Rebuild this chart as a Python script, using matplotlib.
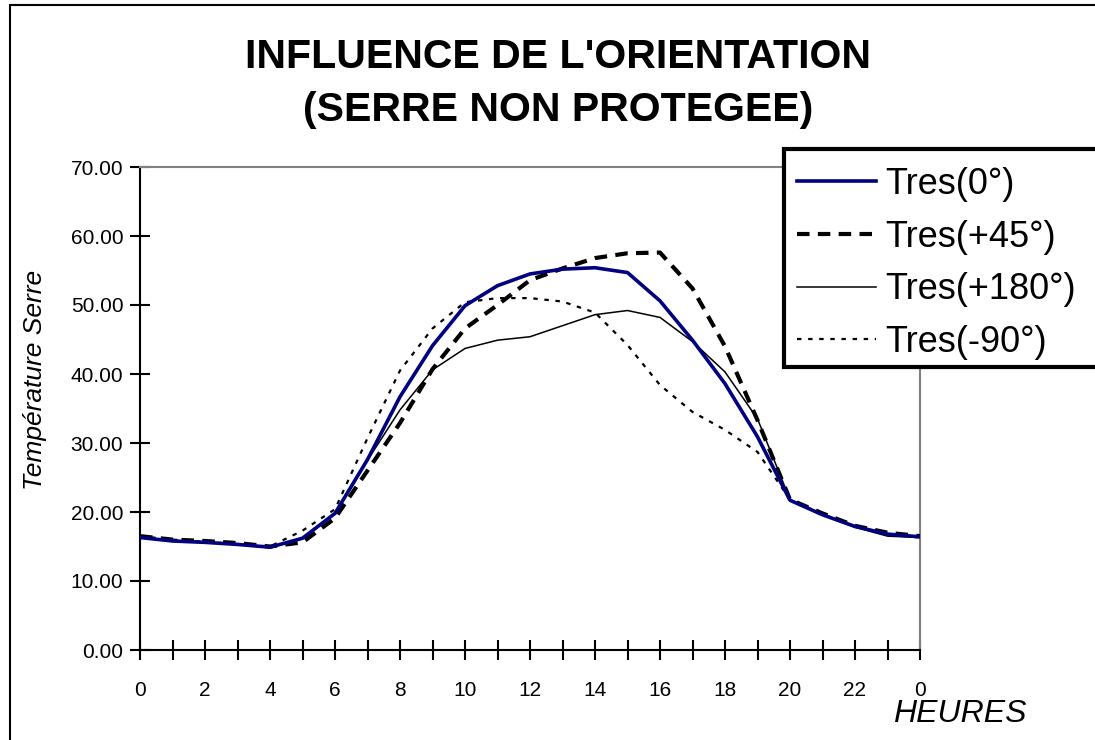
import matplotlib
matplotlib.use("Agg")
import matplotlib.pyplot as plt
from matplotlib.patches import Rectangle
import numpy as np

plt.rcParams['font.family'] = ['Liberation Sans', 'DejaVu Sans']

# ---- data ----
hour_labels = ['0', '1', '2', '3', '4', '5', '6', '7', '8', '9', '10', '11', '12',
               '13', '14', '15', '16', '17', '18', '19', '20', '21', '22', '23', '0']
tres_0 = [16.3, 15.8, 15.6, 15.3, 14.9, 16.2, 19.8, 27.6, 36.7, 44.1, 49.9, 52.8, 54.5,
          55.2, 55.4, 54.7, 50.6, 44.9, 38.6, 30.9, 21.7, 19.6, 17.9, 16.8, 16.4]
tres_45 = [16.5, 16.0, 15.8, 15.5, 15.0, 15.6, 19.1, 26.0, 32.9, 40.7, 46.6, 50.0, 53.6,
           55.3, 56.8, 57.5, 57.6, 52.4, 44.0, 33.3, 21.8, 19.8, 18.0, 17.0, 16.5]
tres_180 = [16.4, 15.8, 15.6, 15.3, 14.8, 16.2, 19.8, 27.5, 34.8, 40.6, 43.7, 44.9, 45.4,
            47.0, 48.6, 49.2, 48.2, 44.7, 40.3, 33.5, 21.8, 19.6, 17.8, 16.5, 16.3]
tres_m90 = [16.5, 16.0, 15.7, 15.3, 15.0, 17.3, 20.4, 30.7, 40.5, 46.6, 50.4, 51.0, 51.0,
            50.5, 48.9, 44.2, 38.4, 34.5, 31.9, 28.7, 21.8, 19.7, 17.9, 16.8, 16.3]
series_names = ['Tres(0°)', 'Tres(+45°)', 'Tres(+180°)', 'Tres(-90°)']
title_lines = ["INFLUENCE DE L'ORIENTATION", "(SERRE NON PROTEGEE)"]
y_ticks = [0, 10, 20, 30, 40, 50, 60, 70]

W, H = 1095, 740
fig = plt.figure(figsize=(W / 100, H / 100), dpi=100)
fig.patch.set_facecolor('white')

ax = fig.add_axes([140 / W, 1 - 650 / H, 780 / W, 483 / H])
x = np.arange(len(hour_labels))

ax.plot(x, tres_m90, color='black', lw=1.6, linestyle=(0, (2, 3)), label=series_names[3], zorder=3)
ax.plot(x, tres_180, color='black', lw=1.1, label=series_names[2], zorder=4)
ax.plot(x, tres_45, color='black', lw=3.0, linestyle=(0, (3, 2)), label=series_names[1], zorder=5)
ax.plot(x, tres_0, color='#000080', lw=2.6, label=series_names[0], zorder=6)

ax.set_xlim(0, len(hour_labels) - 1)
ax.set_ylim(0, 70)
ax.set_yticks(y_ticks)
ax.set_yticklabels([f"{v:.2f}" for v in y_ticks])
ax.set_xticks(x)
ax.set_xticklabels([lab if i % 2 == 0 else '' for i, lab in enumerate(hour_labels)])

for s in ['left', 'bottom']:
    ax.spines[s].set_color('black')
    ax.spines[s].set_linewidth(1.5)
for s in ['top', 'right']:
    ax.spines[s].set_color('#808080')
    ax.spines[s].set_linewidth(1.5)

ax.tick_params(axis='both', direction='inout', length=14, width=1.5, colors='black', labelsize=15)
ax.tick_params(axis='x', pad=15)
ax.tick_params(axis='y', pad=5)

handles, labels = ax.get_legend_handles_labels()
order = [3, 2, 1, 0]
leg = fig.legend([handles[i] for i in order], [labels[i] for i in order],
                 loc='upper left', bbox_to_anchor=(784 / W, 1 - 154 / H),
                 bbox_transform=fig.transFigure, borderaxespad=0,
                 fontsize=26, handlelength=2.2, handletextpad=0.25,
                 labelspacing=0.49, borderpad=0.36, frameon=False)

# legend frame (runs past the right edge as in the reference)
fig.patches.append(Rectangle((784 / W, 1 - 367 / H), 400 / W, 218 / H,
                             transform=fig.transFigure, fill=True, fc='white',
                             lw=3, ec='black', zorder=2))
leg.set_zorder(3)

fig.text(558 / W, 1 - 57 / H, title_lines[0], ha='center', va='center',
         fontsize=29.5, fontweight='bold')
fig.text(558 / W, 1 - 110 / H, title_lines[1], ha='center', va='center',
         fontsize=29.5, fontweight='bold')

fig.text(35 / W, 1 - 380 / H, 'Température Serre', rotation=90, ha='center', va='center',
         fontsize=19, style='italic')
fig.text(960 / W, 1 - 714 / H, 'HEURES', ha='center', va='center',
         fontsize=23, style='italic')

fig.patches.append(Rectangle((10 / W, -0.02), 1.2, 1 - 5 / H + 0.02,
                             transform=fig.transFigure, fill=False,
                             lw=1.5, ec='black'))

fig.savefig('out.png', dpi=100)
